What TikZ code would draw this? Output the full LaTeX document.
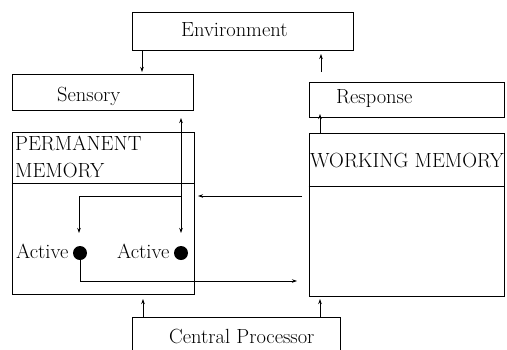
\documentclass[tikz,border=0pt]{standalone}
\usetikzlibrary{arrows.meta}
\begin{document}
\begin{tikzpicture}[x=1pt,y=-1pt,
  box/.style={draw,line width=0.9pt,inner sep=0pt},
  lbl/.style={inner sep=0pt,anchor=base west,font=\fontsize{20.5}{22}\selectfont},
  conn/.style={line width=0.8pt,-{Stealth[length=5pt,width=3.5pt]}},
  dot/.style={circle,fill=black,inner sep=0pt,minimum size=14pt}]
\useasboundingbox (0,0) rectangle (507,349);
% boxes
\node[box,minimum width=221pt,minimum height=38pt] (env) at (242.5,31) {};
\node[box,minimum width=181pt,minimum height=36pt] (sens) at (102.5,92) {};
\node[box,minimum width=195pt,minimum height=35pt] (resp) at (406.5,99.5) {};
\node[box,minimum width=182pt,minimum height=162pt] (pm) at (103,213) {};
\node[box,minimum width=195pt,minimum height=163pt] (wm) at (406.5,214.5) {};
\begin{scope}
\clip (0,0) rectangle (507,349);
\node[box,minimum width=208pt,minimum height=50pt] (cp) at (236,342) {};
\end{scope}
\draw[line width=0.9pt] (pm.west |- 0,183) coordinate (pmdl) -- (pm.east |- 0,183) coordinate (pmdr);
\draw[line width=0.9pt] (wm.west |- 0,186) coordinate (wmdl) -- (wm.east |- 0,186) coordinate (wmdr);
% texts
\node[lbl] (envt) at (181,36) {Environment};
\node[lbl] (senst) at (57,101) {Sensory};
\node[lbl] (respt) at (336,103) {Response};
\node[lbl] (pmt1) at (15,150) {PERMANENT};
\node[lbl] (pmt2) at (15,177) {MEMORY};
\node[lbl] (wmt) at (310,167) {WORKING MEMORY};
\node[lbl] (cpt) at (169,343) {Central Processor};
\node[lbl] (act1) at (16,258) {Active};
\node[lbl] (act2) at (117,258) {Active};
\node[dot] (d1) at (80,253) {};
\node[dot] (d2) at (181,253) {};
% connectors
\coordinate (e1) at (142,50);
\coordinate (e2) at (142,72);
\draw[conn] (e1) -- (e2);
\coordinate (r1) at (321,72);
\coordinate (r2) at (321,54);
\draw[conn] (r1) -- (r2);
\coordinate (w1) at (320,133);
\coordinate (w2) at (320,114);
\draw[conn] (w1) -- (w2);
\coordinate (c1) at (320,317);
\coordinate (c2) at (320,299);
\draw[conn] (c1) -- (c2);
\coordinate (c3) at (143,317);
\coordinate (c4) at (143,299);
\draw[conn] (c3) -- (c4);
\coordinate (s1) at (181,118);
\coordinate (s2) at (181,233);
\draw[line width=0.8pt,{Stealth[length=5pt,width=3.5pt]}-{Stealth[length=5pt,width=3.5pt]}] (s1) -- (s2);
\coordinate (wmin) at (302,196);
\coordinate (pmin) at (198,196);
\draw[conn] (wmin) -- (pmin);
\coordinate (h1) at (181,196);
\coordinate (h2) at (79,196);
\coordinate (h3) at (79,233);
\draw[conn] (h1) -- (h2) -- (h3);
\coordinate (b1) at (80,281);
\coordinate (b2) at (297,281);
\draw[conn] (d1.south) -- (b1) -- (b2);
\end{tikzpicture}
\end{document}
